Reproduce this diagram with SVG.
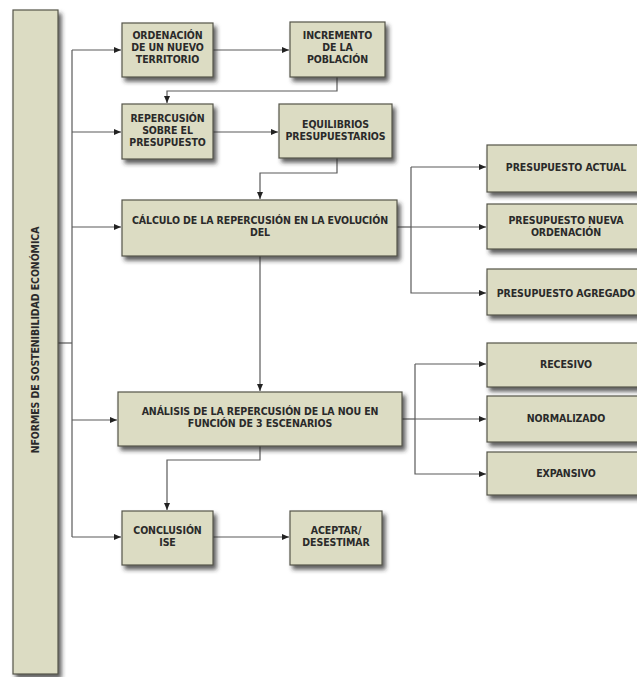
<svg xmlns="http://www.w3.org/2000/svg" width="637" height="677" viewBox="0 0 637 677">
<defs>
<filter id="sh" x="-10%" y="-20%" width="130%" height="150%">
<feDropShadow dx="3" dy="4" stdDeviation="2" flood-color="#2a2a2a" flood-opacity="0.75"/>
</filter>
<marker id="ar" markerWidth="8" markerHeight="8" refX="7" refY="4" orient="auto" markerUnits="userSpaceOnUse">
<path d="M0,1 L7,4 L0,7 Z" fill="#222"/>
</marker>
<style>
.b{fill:#dcdcc3;stroke:#55554a;stroke-width:1.2;filter:url(#sh)}
.t{font-family:'DejaVu Sans Condensed','DejaVu Sans',sans-serif;font-stretch:condensed;font-weight:bold;font-size:10.5px;fill:#2a2a2a;text-anchor:middle;letter-spacing:-0.1px}
.c{fill:none;stroke:#5a5a5a;stroke-width:1.2}
.a{marker-end:url(#ar)}
</style>
</defs>
<rect width="637" height="677" fill="#ffffff"/>
<g id="connectors">
<path class="c" d="M58,343 H72"/>
<path class="c" d="M72,50 V537"/>
<path class="c a" d="M72,50 H121"/>
<path class="c a" d="M72,132 H121"/>
<path class="c a" d="M72,227 H121"/>
<path class="c a" d="M72,420 H117"/>
<path class="c a" d="M72,537 H121"/>
<path class="c a" d="M213,50 H289"/>
<path class="c a" d="M337,77 V91 H167 V103"/>
<path class="c a" d="M213,132 H278"/>
<path class="c a" d="M337,158 V173 H260 V199"/>
<path class="c a" d="M260,256 V391"/>
<path class="c a" d="M260,446 V460 H167 V510"/>
<path class="c a" d="M213,537 H289"/>
<path class="c" d="M397,227 H411"/>
<path class="c a" d="M411,167 V293 H486"/>
<path class="c a" d="M411,167 H486"/>
<path class="c a" d="M411,227 H486"/>
<path class="c" d="M402,419 H415"/>
<path class="c a" d="M415,364 V474 H486"/>
<path class="c a" d="M415,364 H486"/>
<path class="c a" d="M415,419 H486"/>
</g>
<g id="informes">
<rect class="b" x="13" y="10" width="45" height="664"/>
<text class="t" transform="translate(39,340) rotate(-90)">NFORMES DE SOSTENIBILIDAD ECONÓMICA</text>
</g>
<g id="ordenacion">
<rect class="b" x="122" y="23" width="91" height="54"/>
<text class="t" x="167.5" y="39">ORDENACIÓN</text>
<text class="t" x="167.5" y="51">DE UN NUEVO</text>
<text class="t" x="167.5" y="63">TERRITORIO</text>
</g>
<g id="incremento">
<rect class="b" x="290" y="22" width="95" height="55"/>
<text class="t" x="337.5" y="39">INCREMENTO</text>
<text class="t" x="337.5" y="51">DE LA</text>
<text class="t" x="337.5" y="63">POBLACIÓN</text>
</g>
<g id="repercusion">
<rect class="b" x="122" y="104" width="91" height="55"/>
<text class="t" x="167.5" y="122">REPERCUSIÓN</text>
<text class="t" x="167.5" y="134">SOBRE EL</text>
<text class="t" x="167.5" y="146">PRESUPUESTO</text>
</g>
<g id="equilibrios">
<rect class="b" x="279" y="104" width="113" height="54"/>
<text class="t" x="335.5" y="128">EQUILIBRIOS</text>
<text class="t" x="335.5" y="140">PRESUPUESTARIOS</text>
</g>
<g id="calculo">
<rect class="b" x="122" y="200" width="275" height="56"/>
<text class="t" x="260" y="224">CÁLCULO DE LA REPERCUSIÓN EN LA EVOLUCIÓN</text>
<text class="t" x="260" y="236">DEL</text>
</g>
<g id="analisis">
<rect class="b" x="118" y="392" width="284" height="54"/>
<text class="t" x="260" y="415">ANÁLISIS DE LA REPERCUSIÓN DE LA NOU EN</text>
<text class="t" x="260" y="427">FUNCIÓN DE 3 ESCENARIOS</text>
</g>
<g id="conclusion">
<rect class="b" x="122" y="511" width="91" height="54"/>
<text class="t" x="167.5" y="534">CONCLUSIÓN</text>
<text class="t" x="167.5" y="546">ISE</text>
</g>
<g id="aceptar">
<rect class="b" x="290" y="511" width="92" height="54"/>
<text class="t" x="336" y="534">ACEPTAR/</text>
<text class="t" x="336" y="546">DESESTIMAR</text>
</g>
<g id="actual">
<rect class="b" x="487" y="145" width="158" height="47"/>
<text class="t" x="566" y="171">PRESUPUESTO ACTUAL</text>
</g>
<g id="nueva">
<rect class="b" x="487" y="204" width="158" height="45"/>
<text class="t" x="566" y="224">PRESUPUESTO NUEVA</text>
<text class="t" x="566" y="236">ORDENACIÓN</text>
</g>
<g id="agregado">
<rect class="b" x="487" y="269" width="158" height="46"/>
<text class="t" x="566" y="297">PRESUPUESTO AGREGADO</text>
</g>
<g id="recesivo">
<rect class="b" x="487" y="343" width="158" height="44"/>
<text class="t" x="566" y="368">RECESIVO</text>
</g>
<g id="normalizado">
<rect class="b" x="487" y="396" width="158" height="46"/>
<text class="t" x="566" y="422">NORMALIZADO</text>
</g>
<g id="expansivo">
<rect class="b" x="487" y="452" width="158" height="43"/>
<text class="t" x="566" y="477">EXPANSIVO</text>
</g>
</svg>
